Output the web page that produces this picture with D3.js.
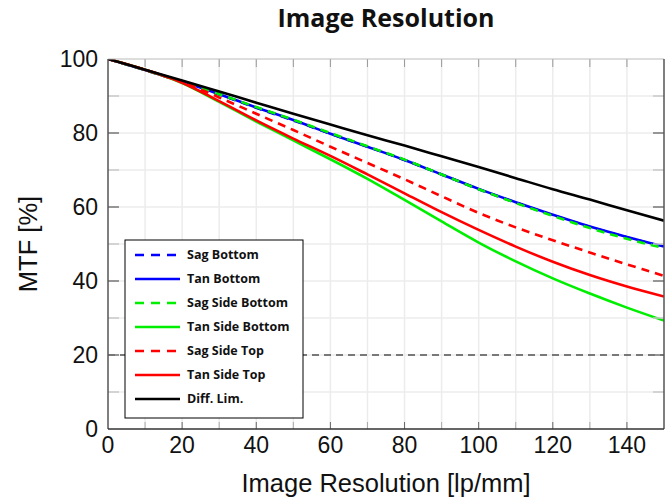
<!DOCTYPE html>
<html>
<head>
<meta charset="utf-8">
<script src="https://cdn.jsdelivr.net/npm/d3@7"></script>
<style>
  body { margin: 0; background: #fff; }
  .tick-label { font-family: "Liberation Sans", Arial, sans-serif; font-size: 23px; fill: #111; }
  .axis-label { font-family: "Liberation Sans", Arial, sans-serif; font-size: 25.5px; fill: #111; }
  .title { font-family: "Open Sans", sans-serif; font-weight: bold; font-size: 25px; fill: #111; }
  .legend-text { font-family: "Open Sans", sans-serif; font-weight: bold; font-size: 12.5px; fill: #111; }
</style>
</head>
<body>
<div id="chart"></div>
<script>
// resolution, lp/mm
const freq = [0, 10, 20, 30, 40, 50, 60, 70, 80, 90, 100, 110, 120, 130, 140, 150];

// MTF values in %
const sagBottom     = [100, 97.0, 93.8, 90.4, 86.8, 83.4, 79.8, 76.3, 72.7, 68.8, 64.8, 61.2, 57.8, 54.6, 51.8, 49.2];
const tanBottom     = [100, 97.0, 93.9, 90.5, 86.9, 83.5, 79.8, 76.3, 72.7, 68.8, 64.9, 61.3, 57.9, 54.7, 51.9, 49.3];
const sagSideBottom = [100, 97.0, 93.9, 90.5, 87.0, 83.6, 80.0, 76.4, 72.8, 68.8, 64.8, 61.1, 57.6, 54.3, 51.4, 48.9];
const tanSideBottom = [100, 97.1, 93.5, 88.4, 83.1, 78.0, 72.9, 67.6, 61.9, 56.1, 50.4, 45.3, 40.7, 36.6, 32.8, 29.3];
const sagSideTop    = [100, 97.1, 93.8, 89.6, 85.2, 80.8, 76.3, 71.9, 67.5, 62.9, 58.4, 54.5, 51.0, 47.7, 44.5, 41.4];
const tanSideTop    = [100, 97.1, 93.6, 88.6, 83.4, 78.5, 73.8, 68.8, 63.7, 58.6, 53.8, 49.3, 45.2, 41.6, 38.5, 35.8];
const diffLim       = [100, 97.1, 94.2, 91.2, 88.2, 85.2, 82.3, 79.4, 76.6, 73.7, 70.8, 67.8, 64.8, 62.0, 59.1, 56.3];

const limitLevel = 20;

const xTicks = [0, 20, 40, 60, 80, 100, 120, 140];
const yTicks = [0, 20, 40, 60, 80, 100];

const series = [
  {name: "Sag Bottom",      values: sagBottom,     color: "#0000ff", dash: "8,6"},
  {name: "Tan Bottom",      values: tanBottom,     color: "#0000ff", dash: null},
  {name: "Sag Side Bottom", values: sagSideBottom, color: "#00ee00", dash: "8,6"},
  {name: "Tan Side Bottom", values: tanSideBottom, color: "#00ee00", dash: null},
  {name: "Sag Side Top",    values: sagSideTop,    color: "#ff0000", dash: "8,6"},
  {name: "Tan Side Top",    values: tanSideTop,    color: "#ff0000", dash: null},
  {name: "Diff. Lim.",      values: diffLim,       color: "#000000", dash: null}
];

const W = 672, H = 504;
const margin = {top: 59, right: 8, bottom: 75, left: 108};
const width  = W - margin.left - margin.right;
const height = H - margin.top - margin.bottom;

const svg = d3.select("#chart").append("svg")
    .attr("width", W)
    .attr("height", H);

const g = svg.append("g")
    .attr("transform", "translate(" + margin.left + "," + margin.top + ")");

const x = d3.scaleLinear().domain([0, 150]).range([0, width]);
const y = d3.scaleLinear().domain([0, 100]).range([height, 0]);

// light grid every 10
const gridX = d3.range(10, 150, 10);
const gridY = d3.range(10, 100, 10);
g.append("g").selectAll("line").data(gridX).join("line")
    .attr("x1", d => x(d)).attr("x2", d => x(d))
    .attr("y1", 0).attr("y2", height)
    .attr("stroke", "#ececec").attr("stroke-width", 1.5);
g.append("g").selectAll("line").data(gridY).join("line")
    .attr("x1", 0).attr("x2", width)
    .attr("y1", d => y(d)).attr("y2", d => y(d))
    .attr("stroke", "#ececec").attr("stroke-width", 1.5);

g.append("defs").append("clipPath").attr("id", "clip")
  .append("rect").attr("width", width).attr("height", height);

const line = d3.line()
    .curve(d3.curveCatmullRom.alpha(0.5))
    .x((d, i) => x(freq[i]))
    .y(d => y(d));

const curves = g.append("g").attr("clip-path", "url(#clip)");
curves.selectAll("path").data(series).join("path")
    .attr("d", d => line(d.values))
    .attr("fill", "none")
    .attr("stroke", d => d.color)
    .attr("stroke-width", 2.6)
    .attr("stroke-dasharray", d => d.dash);

// 20% limit
g.append("line")
    .attr("x1", 0).attr("x2", width)
    .attr("y1", y(limitLevel)).attr("y2", y(limitLevel))
    .attr("stroke", "#000").attr("stroke-width", 1)
    .attr("stroke-dasharray", "7,5");

// legend
const legend = g.append("g").attr("transform", "translate(17,181)");
legend.append("rect")
    .attr("width", 178).attr("height", 178)
    .attr("fill", "#fff").attr("stroke", "#000").attr("stroke-width", 1);
const item = legend.selectAll("g.item").data(series).join("g")
    .attr("class", "item")
    .attr("transform", (d, i) => "translate(0," + (15 + i * 24) + ")");
item.append("line")
    .attr("x1", 10).attr("x2", 55)
    .attr("stroke", d => d.color)
    .attr("stroke-width", 2.6)
    .attr("stroke-dasharray", d => d.dash ? "9,7" : null);
item.append("text")
    .attr("class", "legend-text")
    .attr("x", 62).attr("dy", "0.35em")
    .text(d => d.name);

// ticks, inward, on all four sides
const minorX = d3.range(10, 150, 10);
[height, 0].forEach(py => {
  g.append("g").selectAll("line").data(minorX).join("line")
      .attr("x1", d => x(d)).attr("x2", d => x(d))
      .attr("y1", py).attr("y2", py === 0 ? 8 : height - 7)
      .attr("stroke", py === 0 ? "#999" : (d => d % 20 === 0 ? "#666" : "#aaa"))
      .attr("stroke-width", 1);
});
const minorY = d3.range(10, 100, 10);
[0, width].forEach(px => {
  g.append("g").selectAll("line").data(minorY).join("line")
      .attr("x1", px).attr("x2", px === 0 ? 11 : width - 11)
      .attr("y1", d => y(d)).attr("y2", d => y(d))
      .attr("stroke", d => d % 20 === 0 ? "#777" : "#c8c8c8").attr("stroke-width", 1.5);
});

// frame
g.append("line").attr("x1", 0).attr("x2", width).attr("y1", 0).attr("y2", 0)
    .attr("stroke", "#bbb").attr("stroke-width", 1);
g.append("line").attr("x1", 0).attr("x2", 0).attr("y1", 0).attr("y2", height)
    .attr("stroke", "#555").attr("stroke-width", 1.5);
g.append("line").attr("x1", width).attr("x2", width).attr("y1", 0).attr("y2", height)
    .attr("stroke", "#555").attr("stroke-width", 1.5);
g.append("line").attr("x1", 0).attr("x2", width).attr("y1", height).attr("y2", height)
    .attr("stroke", "#333").attr("stroke-width", 1.5);

// tick labels
g.append("g").selectAll("text").data(xTicks).join("text")
    .attr("class", "tick-label")
    .attr("x", d => x(d)).attr("y", height + 24)
    .attr("text-anchor", "middle")
    .text(d => d);
g.append("g").selectAll("text").data(yTicks).join("text")
    .attr("class", "tick-label")
    .attr("x", -10).attr("y", d => y(d))
    .attr("dy", "0.36em")
    .attr("text-anchor", "end")
    .text(d => d);

// labels
svg.append("text")
    .attr("class", "title")
    .attr("x", margin.left + width / 2).attr("y", 27)
    .attr("text-anchor", "middle")
    .text("Image Resolution");
svg.append("text")
    .attr("class", "axis-label")
    .attr("x", margin.left + width / 2).attr("y", 492)
    .attr("text-anchor", "middle")
    .text("Image Resolution [lp/mm]");
svg.append("text")
    .attr("class", "axis-label")
    .attr("transform", "translate(37," + (margin.top + height / 2) + ") rotate(-90)")
    .attr("text-anchor", "middle")
    .text("MTF [%]");
</script>
</body>
</html>
